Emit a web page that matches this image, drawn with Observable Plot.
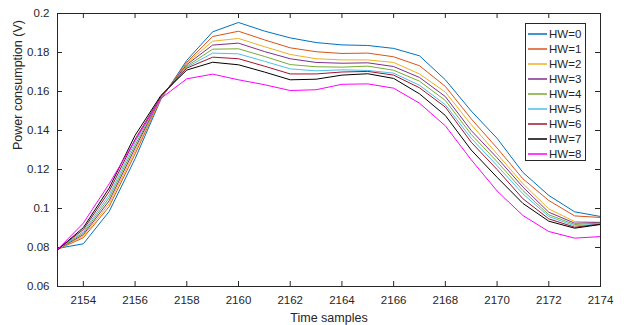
<!DOCTYPE html>
<html>
<head>
<meta charset="utf-8">
<script src="https://cdn.jsdelivr.net/npm/d3@7"></script>
<script src="https://cdn.jsdelivr.net/npm/@observablehq/plot@0.6"></script>
<style>
  html, body { margin: 0; padding: 0; background: #fff; }
  #wrap { position: relative; width: 629px; height: 325px; font-family: "Liberation Sans", Arial, sans-serif; }
  #legend { position: absolute; left: 525px; top: 23px; width: 61px; height: 138px; box-sizing: border-box;
            border: 1px solid #262626; background: #fff; padding-top: 2px; }
  .row { height: 15px; display: flex; align-items: center; font-size: 11.5px; color: #262626; }
  .sw { display: inline-block; width: 19px; height: 2px; margin-left: 2px; margin-right: 2px; flex: none; opacity: 0.75; }
</style>
</head>
<body>
<div id="wrap"></div>
<script>
const samples = [2153,2154,2155,2156,2157,2158,2159,2160,2161,2162,2163,2164,2165,2166,2167,2168,2169,2170,2171,2172,2173,2174];
const seriesNames = ["HW=0","HW=1","HW=2","HW=3","HW=4","HW=5","HW=6","HW=7","HW=8"];
const colors = ["#0072BD","#D95319","#EDB120","#7E2F8E","#77AC30","#4DBEEE","#A2142F","#000000","#FF00FF"];
const hw0 = [0.0795,0.0819,0.0985,0.1255,0.156,0.176,0.1906,0.1954,0.191,0.1875,0.1851,0.1839,0.1836,0.1821,0.1783,0.166,0.150,0.136,0.1185,0.1067,0.0983,0.0959];
const hw1 = [0.079,0.085,0.101,0.128,0.1565,0.175,0.1882,0.1909,0.1865,0.1824,0.1804,0.1795,0.1797,0.1778,0.1732,0.1626,0.146,0.131,0.1152,0.1041,0.0962,0.0954];
const hw2 = [0.079,0.0858,0.1025,0.1295,0.1565,0.1745,0.1858,0.1872,0.183,0.179,0.1768,0.1762,0.1762,0.1749,0.169,0.1597,0.143,0.128,0.1127,0.0998,0.0933,0.093];
const hw3 = [0.079,0.0866,0.104,0.131,0.157,0.1738,0.1838,0.1848,0.1805,0.1768,0.1749,0.1745,0.1747,0.1728,0.1672,0.1574,0.140,0.126,0.111,0.0981,0.0925,0.0928];
const hw4 = [0.079,0.0874,0.1055,0.1325,0.157,0.173,0.1817,0.1819,0.178,0.1738,0.1727,0.1725,0.173,0.1709,0.1653,0.1554,0.138,0.124,0.1092,0.0968,0.0918,0.0925];
const hw5 = [0.079,0.0882,0.107,0.134,0.157,0.1725,0.1797,0.1793,0.1755,0.1716,0.1706,0.1711,0.1708,0.1694,0.1632,0.1532,0.136,0.122,0.1075,0.0959,0.0911,0.092];
const hw6 = [0.079,0.0892,0.1088,0.1355,0.1575,0.172,0.1776,0.1768,0.173,0.169,0.169,0.170,0.1703,0.1684,0.1619,0.152,0.134,0.120,0.105,0.0947,0.0904,0.092];
const hw7 = [0.0788,0.0902,0.1105,0.1375,0.158,0.171,0.175,0.1737,0.170,0.166,0.1663,0.1684,0.1691,0.1667,0.1588,0.1477,0.130,0.116,0.1026,0.0935,0.0899,0.0918];
const hw8 = [0.079,0.0925,0.1127,0.135,0.1565,0.1665,0.1689,0.166,0.1635,0.1605,0.1609,0.1637,0.1639,0.1617,0.154,0.1424,0.125,0.109,0.0964,0.0882,0.0848,0.0856];
const xTicks = [2154,2156,2158,2160,2162,2164,2166,2168,2170,2172,2174];
const yTicks = [0.06,0.08,0.1,0.12,0.14,0.16,0.18,0.2];
const xTitle = "Time samples";
const yTitle = "Power consumption (V)";

const allSeries = [hw0,hw1,hw2,hw3,hw4,hw5,hw6,hw7,hw8];
const rows = [];
allSeries.forEach((vals, i) => vals.forEach((v, j) => rows.push({series: seriesNames[i], x: samples[j], y: v})));

const axisColor = "#262626";
const chart = Plot.plot({
  width: 629,
  height: 325,
  marginLeft: 57,
  marginRight: 29,
  marginTop: 13,
  marginBottom: 39,
  style: {fontFamily: "'Liberation Sans', Arial, sans-serif", fontSize: "11px", color: axisColor, background: "#fff"},
  x: {domain: [2153, 2174]},
  y: {domain: [0.06, 0.2]},
  color: {domain: seriesNames, range: colors},
  marks: [
    Plot.ruleX(xTicks, {x: d => d, insetTop: 268, stroke: axisColor, strokeWidth: 1}),
    Plot.ruleX(xTicks, {x: d => d, insetBottom: 268, stroke: axisColor, strokeWidth: 1}),
    Plot.ruleY(yTicks, {y: d => d, insetRight: 538, stroke: axisColor, strokeWidth: 1}),
    Plot.ruleY(yTicks, {y: d => d, insetLeft: 538, stroke: axisColor, strokeWidth: 1}),
    Plot.lineY(rows, {x: "x", y: "y", z: "series", stroke: "series", strokeWidth: 1}),
    Plot.frame({stroke: axisColor, strokeWidth: 1}),
    Plot.axisX({ticks: xTicks, tickSize: 0, tickPadding: 9, label: null, fill: axisColor, fontSize: 11.5,
                tickFormat: d => String(d)}),
    Plot.axisY({ticks: yTicks, tickSize: 0, tickPadding: 8, label: null, fill: axisColor, fontSize: 11.5,
                tickFormat: d => String(+d.toFixed(2))}),
    Plot.text([xTitle], {text: d => d, frameAnchor: "bottom", dy: 35, fontSize: 12.5, fill: axisColor}),
    Plot.text([yTitle], {text: d => d, frameAnchor: "left", dx: -40, rotate: -90, fontSize: 12.5, fill: axisColor})
  ]
});

const wrap = document.getElementById("wrap");
wrap.appendChild(chart);
const legend = document.createElement("div");
legend.id = "legend";
seriesNames.forEach((name, i) => {
  const row = document.createElement("div");
  row.className = "row";
  const sw = document.createElement("span");
  sw.className = "sw";
  sw.style.background = colors[i];
  const label = document.createElement("span");
  label.textContent = name;
  row.appendChild(sw);
  row.appendChild(label);
  legend.appendChild(row);
});
wrap.appendChild(legend);
</script>
</body>
</html>
